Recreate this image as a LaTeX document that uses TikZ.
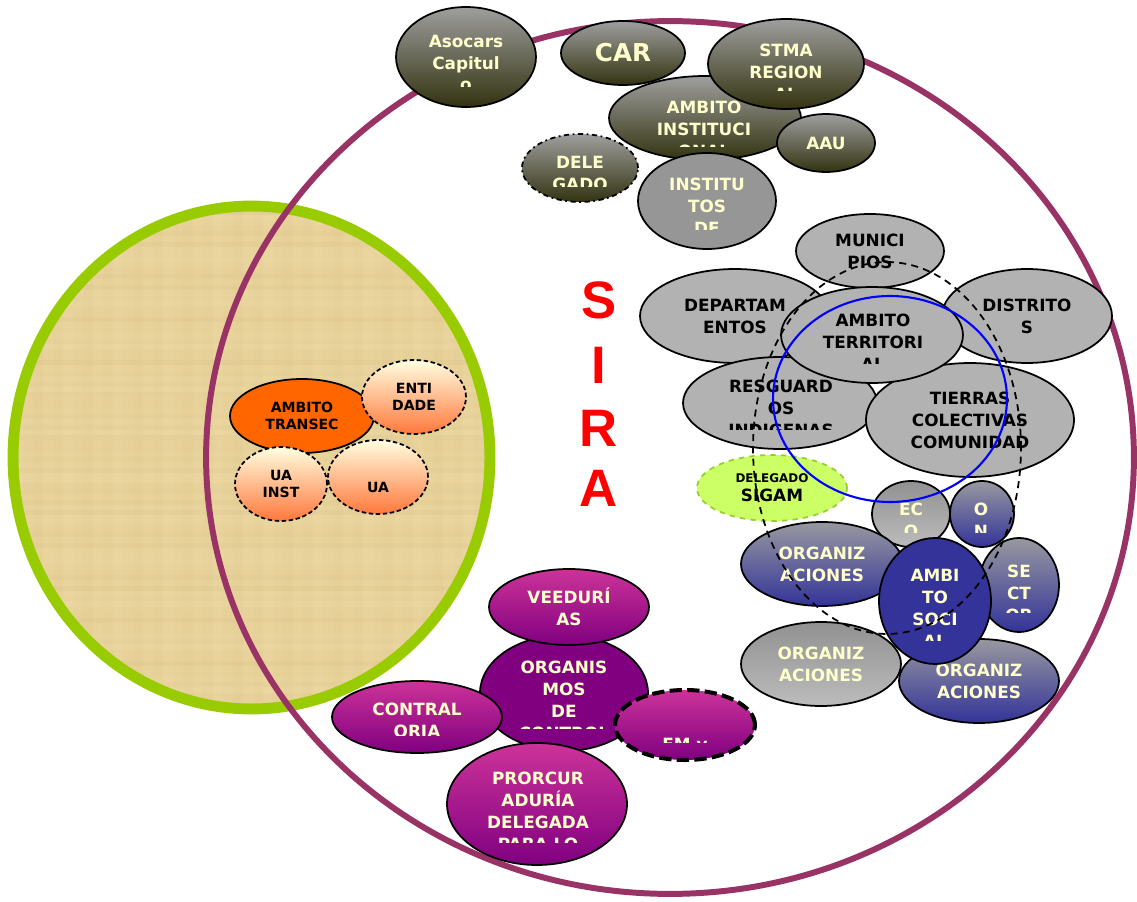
\documentclass[tikz,border=0pt]{standalone}
\usepackage{fontspec}
\setmainfont{DejaVu Sans}
\newfontfamily\sirafont{Liberation Sans}
\usetikzlibrary{shapes.geometric}

\definecolor{siraline}{RGB}{153,51,102}
\definecolor{lentegreen}{RGB}{153,204,0}
\definecolor{papyrus}{RGB}{233,211,156}
\definecolor{papyrusdk}{RGB}{212,186,126}
\definecolor{papyruslt}{RGB}{246,228,182}
\definecolor{cream}{RGB}{255,255,204}
\definecolor{dktop}{RGB}{158,158,158}
\definecolor{dkbot}{RGB}{51,51,17}
\definecolor{midgray}{RGB}{150,150,150}
\definecolor{ltgray}{RGB}{178,178,178}
\definecolor{graytop}{RGB}{145,145,145}
\definecolor{graybot}{RGB}{188,188,188}
\definecolor{bluetop}{RGB}{152,152,160}
\definecolor{socblue}{RGB}{51,51,153}
\definecolor{magtop}{RGB}{204,51,153}
\definecolor{magbot}{RGB}{128,0,128}
\definecolor{transorange}{RGB}{255,102,0}
\definecolor{peachtop}{RGB}{255,255,224}
\definecolor{peachbot}{RGB}{255,120,60}
\definecolor{sigamfill}{RGB}{204,255,102}
\definecolor{sigamline}{RGB}{153,204,51}
\definecolor{sirared}{RGB}{255,0,0}

% text of a shape, cut off below a given height
\newcommand{\cutlabel}[5]{%
  \begin{scope}
    \clip (0,0) rectangle (1137,#3);
    \node[#4] (#1) at #2 {#5};
  \end{scope}}

\begin{document}
\begin{tikzpicture}[x=0.02cm, y=-0.02cm,
    blob/.style={ellipse, draw=black, line width=1pt, inner sep=0pt},
    dkfade/.style={blob, top color=dktop, bottom color=dkbot},
    instgray/.style={blob, fill=midgray},
    terr/.style={blob, fill=ltgray},
    grayfade/.style={blob, top color=graytop, bottom color=graybot},
    bluefade/.style={blob, top color=bluetop, bottom color=socblue},
    social/.style={blob, fill=socblue},
    magfade/.style={blob, top color=magtop, bottom color=magbot},
    ctrlfill/.style={blob, fill=magbot},
    transec/.style={blob, fill=transorange},
    peach/.style={blob, dash pattern=on 2.5pt off 1.5pt, top color=peachtop, bottom color=peachbot},
    txt/.style={font=\bfseries\fontsize{9.6}{12.5}\selectfont, align=center, text=cream, inner sep=0pt},
    btxt/.style={txt, text=black},
    stxt/.style={font=\bfseries\fontsize{8}{10}\selectfont, align=center, text=black, inner sep=0pt},
    siraletter/.style={font=\sirafont\bfseries\fontsize{30}{36}\selectfont, text=sirared, inner sep=0pt}
]
    \useasboundingbox (0,0) rectangle (1137,902);

    % the two big rings
    \node[ellipse, draw=lentegreen, line width=6.2pt, fill=papyrus,
          minimum width=9.54cm, minimum height=10.06cm,
          path picture={
            \foreach \k in {0,...,47} {
              \pgfmathsetmacro{\op}{mod(\k*7,5)*0.035}
              \fill[papyrusdk, opacity=\op] ([xshift=\k*0.2cm]path picture bounding box.south west) rectangle ++(0.2cm,10.2cm);
              \pgfmathsetmacro{\oq}{mod(\k*3,4)*0.06}
              \fill[papyruslt, opacity=\oq] ([yshift=\k*0.215cm]path picture bounding box.south west) rectangle ++(9.6cm,0.215cm);
              \pgfmathsetmacro{\orr}{mod(\k*5,7)*0.025}
              \fill[papyrusdk, opacity=\orr] ([yshift=\k*0.215cm]path picture bounding box.south west) rectangle ++(9.6cm,0.1cm);
            }}] (lente) at (251.5,457.5) {};
    \node[ellipse, draw=siraline, line width=3.4pt,
          minimum width=18.56cm, minimum height=17.46cm] (sira) at (670,457.5) {};

    % transectorial
    \node[transec, stxt, font=\bfseries\fontsize{8}{9.6}\selectfont,
          minimum width=2.88cm, minimum height=1.48cm] (transec) at (302,416) {AMBITO\\TRANSEC};
    \node[peach, stxt, minimum width=2.08cm, minimum height=1.48cm] (entidade) at (414,397) {ENTI\\DADE};
    \node[peach, stxt, minimum width=1.84cm, minimum height=1.48cm] (uainst) at (281,484) {UA\\INST};
    \node[peach, minimum width=2cm, minimum height=1.48cm] (ua) at (378,477) {};
    \node[stxt] (ua-t) at (378,487) {UA};

    \foreach \ch/\yy in {S/300,I/365,R/428,A/488}
        \node[siraletter] (sira\ch) at (599,\yy) {\ch};

    % institucional
    \node[dkfade, minimum width=2.8cm, minimum height=2cm] (asocars) at (466,57) {};
    \cutlabel{asocars-t}{(466,63)}{87}{txt}{Asocars\\Capitul\\o}
    \node[dkfade, txt, font=\bfseries\fontsize{14}{16}\selectfont,
          minimum width=2.48cm, minimum height=1.28cm] (car) at (623,53) {CAR};
    \node[dkfade, minimum width=3.84cm, minimum height=1.68cm] (ambinst) at (705,118) {};
    \cutlabel{ambinst-t}{(704,129)}{147}{txt}{AMBITO\\INSTITUCI\\ONAL}
    \node[dkfade, minimum width=3.12cm, minimum height=1.8cm] (stma) at (786,64) {};
    \cutlabel{stma-t}{(786,72)}{91}{txt}{STMA\\REGION\\AL}
    \node[dkfade, txt, minimum width=1.96cm, minimum height=1.16cm] (aau) at (826,143) {AAU};
    \node[dkfade, dash dot, minimum width=2.32cm, minimum height=1.36cm] (delegado) at (580,168) {};
    \cutlabel{delegado-t}{(580,173.5)}{187}{txt}{DELE\\GADO}
    \node[instgray, minimum width=2.76cm, minimum height=1.92cm] (institutos) at (707,201) {};
    \cutlabel{institutos-t}{(707,206)}{230}{txt}{INSTITU\\TOS\\DE}

    % territorial
    \node[terr, btxt, minimum width=2.96cm, minimum height=1.48cm] (municipios) at (870,251) {MUNICI\\PIOS};
    \node[terr, btxt, minimum width=3.8cm, minimum height=1.88cm] (departamentos) at (735,316) {DEPARTAM\\ENTOS};
    \node[terr, btxt, minimum width=3.4cm, minimum height=1.88cm] (distritos) at (1027,316) {DISTRITO\\S};
    \node[terr, minimum width=3.88cm, minimum height=1.84cm] (resguardos) at (780,403) {};
    \cutlabel{resguardos-t}{(781,408)}{430}{btxt}{RESGUARD\\OS\\INDIGENAS}
    \node[terr, btxt, minimum width=4.16cm, minimum height=2.28cm] (tierras) at (970,420) {TIERRAS\\COLECTIVAS\\COMUNIDAD};
    \node[terr, minimum width=3.64cm, minimum height=1.92cm] (ambterr) at (872,335) {};
    \cutlabel{ambterr-t}{(873,342)}{364}{btxt}{AMBITO\\TERRITORI\\AL}

    \node[blob, fill=sigamfill, draw=sigamline, dashed, align=center,
          font=\bfseries\fontsize{6.8}{10.8}\selectfont,
          minimum width=3cm, minimum height=1.32cm] (sigam) at (772,488) {DELEGADO\\{\fontsize{9.6}{11}\selectfont SIGAM}};

    % social
    \node[grayfade, minimum width=1.56cm, minimum height=1.32cm] (eco) at (911,514) {};
    \cutlabel{eco-t}{(911,520)}{532}{txt}{EC\\O}
    \node[bluefade, minimum width=1.28cm, minimum height=1.32cm] (on) at (982,514) {};
    \cutlabel{on-t}{(981,520)}{532}{txt}{O\\N}
    \node[bluefade, txt, minimum width=3.24cm, minimum height=1.68cm] (orgA) at (822,564) {ORGANIZ\\ACIONES};
    \node[grayfade, txt, minimum width=3.2cm, minimum height=1.68cm] (orgB) at (821,664) {ORGANIZ\\ACIONES};
    \node[bluefade, txt, minimum width=3.2cm, minimum height=1.68cm] (orgC) at (979,681) {ORGANIZ\\ACIONES};
    \node[bluefade, minimum width=1.6cm, minimum height=1.88cm] (sector) at (1019,585) {};
    \cutlabel{sector-t}{(1019,593)}{612}{txt}{SE\\CT\\OR}
    \node[social, minimum width=2.24cm, minimum height=2.52cm] (ambsoc) at (935,601) {};
    \cutlabel{ambsoc-t}{(935,608)}{640}{txt}{AMBI\\TO\\SOCI\\AL}

    % control
    \node[ctrlfill, minimum width=3.36cm, minimum height=2.32cm] (organismos) at (564,693) {};
    \cutlabel{organismos-t}{(564,700)}{728}{txt}{ORGANIS\\MOS\\DE\\CONTROL}
    \node[magfade, txt, minimum width=3.2cm, minimum height=1.52cm] (veedurias) at (569,607) {VEEDURÍ\\AS};
    \node[magfade, minimum width=3.4cm, minimum height=1.44cm] (contraloria) at (417,717) {};
    \cutlabel{contraloria-t}{(417,720)}{735}{txt}{CONTRAL\\ORIA}
    \node[magfade, minimum width=3.6cm, minimum height=2.44cm] (procuraduria) at (537,804) {};
    \cutlabel{procuraduria-t}{(538,811)}{842}{txt}{PRORCUR\\ADURÍA\\DELEGADA\\PARA LO}
    \node[magfade, line width=2.3pt, dash pattern=on 7pt off 3pt,
          minimum width=2.8cm, minimum height=1.4cm] (emy) at (685,725) {};
    \cutlabel{emy-t}{(685,750)}{742}{txt, anchor=base}{EM y}

    % zona and nucleo rings
    \node[ellipse, draw=black, line width=1pt, dash pattern=on 4pt off 3pt,
          minimum width=5.36cm, minimum height=7.44cm] (zona) at (887,448) {};
    \node[ellipse, draw=blue, line width=1.2pt,
          minimum width=4.68cm, minimum height=4.12cm] (nucleo) at (890,399) {};
\end{tikzpicture}
\end{document}
